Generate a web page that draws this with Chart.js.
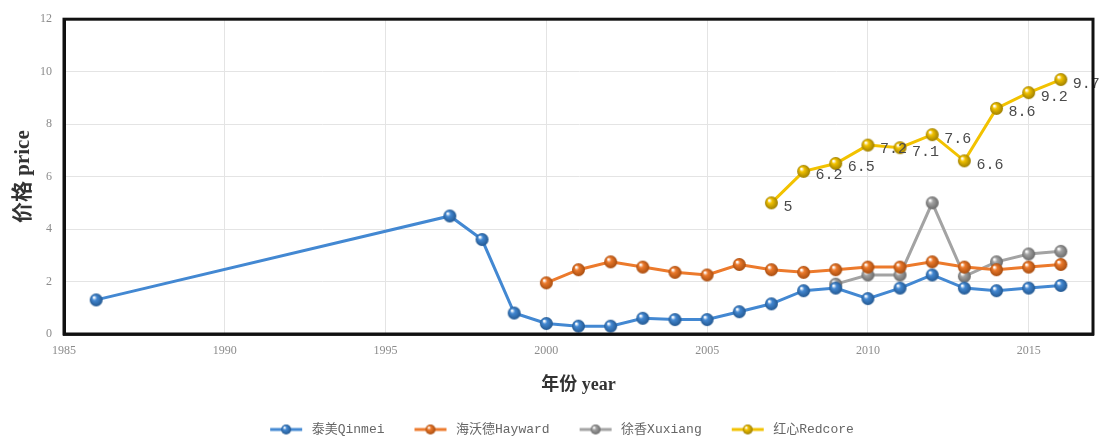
<!DOCTYPE html>
<html>
<head>
<meta charset="utf-8">
<script src="https://cdn.jsdelivr.net/npm/chart.js@4/dist/chart.umd.min.js"></script>
<style>
  html, body { margin: 0; padding: 0; background: #ffffff; }
  #wrap { width: 1107px; height: 442px; }
</style>
</head>
<body>
<div id="wrap"><canvas id="grafica" width="1107" height="442"></canvas></div>
<script>
// years for each series
const aniosQinmei = [1986, 1997, 1998, 1999, 2000, 2001, 2002, 2003, 2004, 2005, 2006, 2007, 2008, 2009, 2010, 2011, 2012, 2013, 2014, 2015, 2016];
const preciosQinmei = [1.3, 4.5, 3.6, 0.8, 0.4, 0.3, 0.3, 0.6, 0.55, 0.55, 0.85, 1.15, 1.65, 1.75, 1.35, 1.75, 2.25, 1.75, 1.65, 1.75, 1.85];

const aniosHayward = [2000, 2001, 2002, 2003, 2004, 2005, 2006, 2007, 2008, 2009, 2010, 2011, 2012, 2013, 2014, 2015, 2016];
const preciosHayward = [1.95, 2.45, 2.75, 2.55, 2.35, 2.25, 2.65, 2.45, 2.35, 2.45, 2.55, 2.55, 2.75, 2.55, 2.45, 2.55, 2.65];

const aniosXuxiang = [2009, 2010, 2011, 2012, 2013, 2014, 2015, 2016];
const preciosXuxiang = [1.9, 2.25, 2.25, 5.0, 2.2, 2.75, 3.05, 3.15];

const aniosRedcore = [2007, 2008, 2009, 2010, 2011, 2012, 2013, 2014, 2015, 2016];
const preciosRedcore = [5, 6.2, 6.5, 7.2, 7.1, 7.6, 6.6, 8.6, 9.2, 9.7];

const nombres = ['泰美Qinmei', '海沃德Hayward', '徐香Xuxiang', '红心Redcore'];
const colores = ['#4388d2', '#ec7a2c', '#a3a3a3', '#f2c200'];

const fuenteMono = '"Liberation Mono", "Noto Sans CJK SC", monospace';
const fuenteSerif = '"Liberation Serif", "Noto Sans CJK SC", serif';

function juntar(xs, ys) {
    return xs.map((x, i) => ({ x: x, y: ys[i] }));
}

// shaded ball used as the point marker
function esfera(color, r) {
    const c = document.createElement('canvas');
    c.width = r * 2 + 2;
    c.height = r * 2 + 2;
    const g = c.getContext('2d');
    const cx = r + 1, cy = r + 1;
    const grad = g.createRadialGradient(cx - r * 0.35, cy - r * 0.4, r * 0.1, cx, cy, r);
    grad.addColorStop(0, '#ffffff');
    grad.addColorStop(0.3, color);
    grad.addColorStop(1, Chart.helpers.color(color).darken(0.35).rgbString());
    g.fillStyle = grad;
    g.beginPath();
    g.arc(cx, cy, r, 0, Math.PI * 2);
    g.fill();
    return c;
}

// legend symbol: short line with a ball in the middle
function simbolo(color) {
    const c = document.createElement('canvas');
    c.width = 34;
    c.height = 14;
    const g = c.getContext('2d');
    g.strokeStyle = color;
    g.lineWidth = 3;
    g.beginPath();
    g.moveTo(1, 7);
    g.lineTo(33, 7);
    g.stroke();
    g.drawImage(esfera(color, 5), 11, 1);
    return c;
}

const marcadores = colores.map(c => esfera(c, 6.5));
const simbolos = colores.map(c => simbolo(c));

function serie(i, xs, ys) {
    return {
        label: nombres[i],
        data: juntar(xs, ys),
        borderColor: colores[i],
        backgroundColor: colores[i],
        borderWidth: 3,
        pointStyle: marcadores[i],
        pointRadius: 7,
        tension: 0
    };
}

// thick frame around the plot area, legend nudged right
const marco = {
    id: 'marco',
    afterLayout(chart) {
        chart.legend.left += 14;
        chart.legend.right += 14;
    },
    afterDraw(chart) {
        const a = chart.chartArea;
        const ctx = chart.ctx;
        ctx.save();
        ctx.strokeStyle = '#111111';
        ctx.lineWidth = 3;
        ctx.strokeRect(a.left, a.top, a.right - a.left, a.bottom - a.top);
        ctx.restore();
    }
};

// value labels next to the Redcore points
const etiquetas = {
    id: 'etiquetas',
    afterDatasetsDraw(chart) {
        const meta = chart.getDatasetMeta(3);
        const ctx = chart.ctx;
        ctx.save();
        ctx.font = '15px ' + fuenteMono;
        ctx.fillStyle = '#4a4a4a';
        ctx.textBaseline = 'middle';
        ctx.textAlign = 'left';
        meta.data.forEach((p, i) => {
            ctx.fillText(String(preciosRedcore[i]), p.x + 12, p.y + 4);
        });
        ctx.restore();
    }
};

new Chart(document.getElementById('grafica'), {
    type: 'line',
    data: {
        datasets: [
            serie(0, aniosQinmei, preciosQinmei),
            serie(1, aniosHayward, preciosHayward),
            serie(2, aniosXuxiang, preciosXuxiang),
            serie(3, aniosRedcore, preciosRedcore)
        ]
    },
    options: {
        responsive: false,
        animation: false,
        layout: {
            padding: { top: 17, right: 14, left: 0, bottom: -4 }
        },
        plugins: {
            tooltip: { enabled: false },
            legend: {
                position: 'bottom',
                labels: {
                    usePointStyle: true,
                    pointStyleWidth: 38,
                    color: '#666666',
                    padding: 27,
                    font: { family: fuenteMono, size: 13 },
                    generateLabels(chart) {
                        return chart.data.datasets.map((d, i) => ({
                            text: d.label,
                            pointStyle: simbolos[i],
                            fillStyle: colores[i],
                            strokeStyle: colores[i],
                            lineWidth: 0,
                            fontColor: '#666666',
                            hidden: false,
                            datasetIndex: i
                        }));
                    }
                }
            }
        },
        scales: {
            x: {
                type: 'linear',
                min: 1985,
                max: 2017,
                afterFit(scale) { scale.height = 62; },
                ticks: {
                    stepSize: 5,
                    includeBounds: false,
                    padding: 10,
                    color: '#8c8c8c',
                    font: { family: fuenteSerif, size: 12 },
                    callback: v => String(v)
                },
                grid: { color: '#e4e4e4', drawTicks: false },
                border: { color: '#333333', width: 3 },
                title: {
                    display: true,
                    text: '年份 year',
                    color: '#333333',
                    padding: { top: 3, bottom: 0 },
                    font: { family: fuenteSerif, size: 18, weight: 'bold' }
                }
            },
            y: {
                min: 0,
                max: 12,
                afterFit(scale) { scale.width = 64; },
                ticks: {
                    stepSize: 2,
                    padding: 12,
                    color: '#8c8c8c',
                    font: { family: fuenteSerif, size: 12 }
                },
                grid: { color: '#e4e4e4', drawTicks: false },
                border: { color: '#111111', width: 3 },
                title: {
                    display: true,
                    text: '价格 price',
                    color: '#333333',
                    padding: { top: 11, bottom: 0 },
                    font: { family: fuenteSerif, size: 21, weight: 'bold' }
                }
            }
        }
    },
    plugins: [marco, etiquetas]
});
</script>
</body>
</html>
